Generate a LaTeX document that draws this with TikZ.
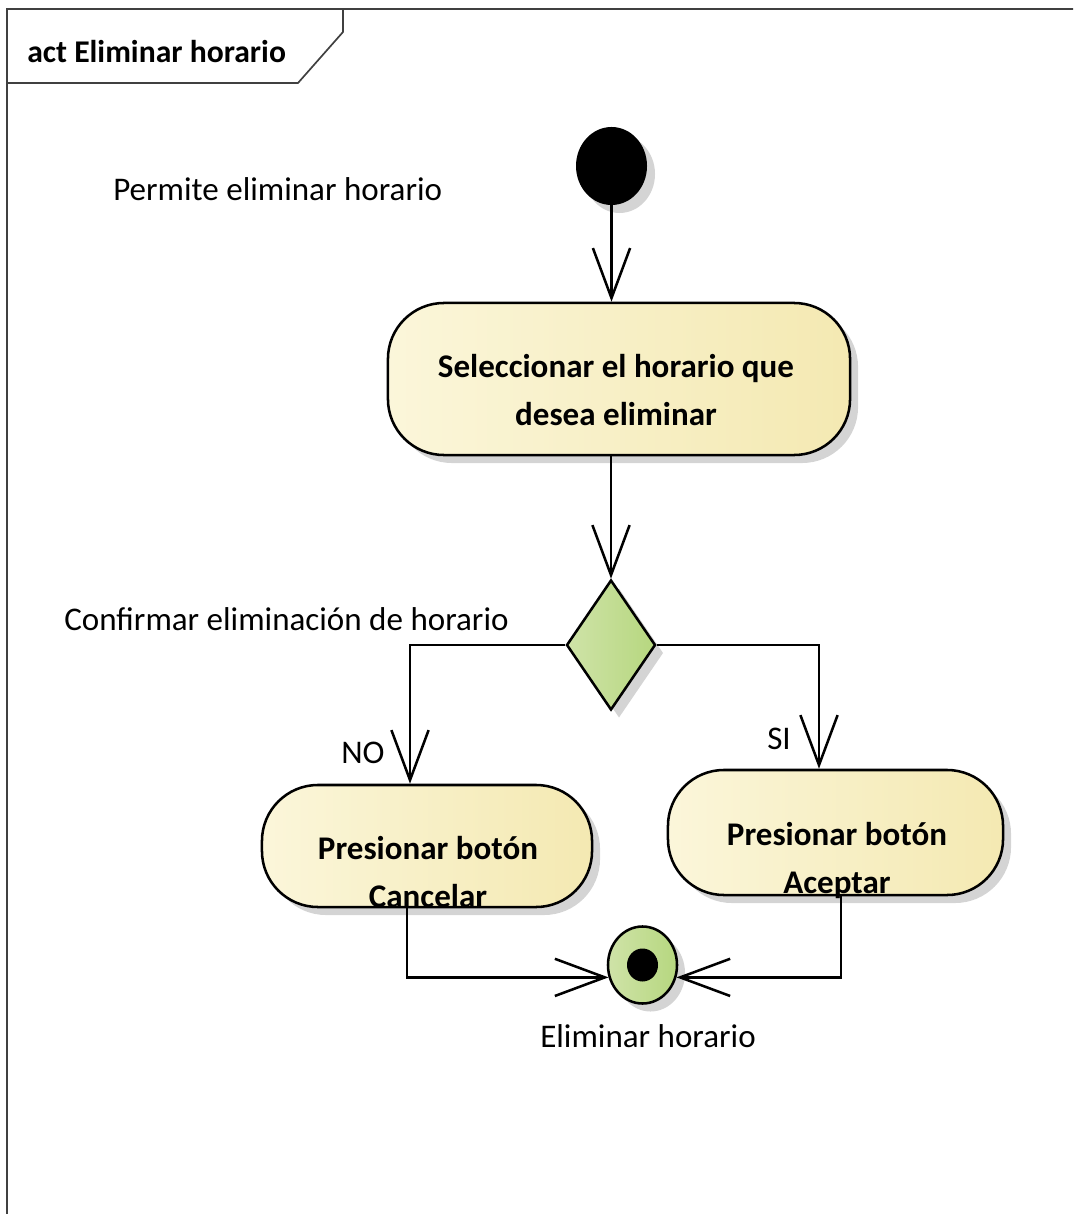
\documentclass[tikz,border=0pt]{standalone}
\usepackage{fontspec}
\setmainfont{Carlito}
\usetikzlibrary{shapes.geometric,arrows.meta,shadows}

\definecolor{actleft}{HTML}{FBF6DA}
\definecolor{actright}{HTML}{F4E9B2}
\definecolor{decleft}{HTML}{CFE3A8}
\definecolor{decright}{HTML}{B6D77F}
\definecolor{framegray}{HTML}{404040}
\definecolor{shadowgray}{HTML}{D4D4D4}

\tikzset{
  flow/.style={line width=1.8pt, -{Straight Barb[length=1.25cm, width=0.93cm]}},
  umlshadow/.style={drop shadow={shadow xshift=0.2cm, shadow yshift=-0.2cm, fill=shadowgray, opacity=1}},
  action/.style={draw, line width=1.8pt, rounded corners=1.4cm, left color=actleft, right color=actright, umlshadow, inner sep=0},
  acttext/.style={font=\bfseries\fontsize{23.5}{34}\selectfont, align=center, inner sep=0},
  lbl/.style={font=\fontsize{23.5}{28}\selectfont, inner sep=0},
}

\begin{document}
\begin{tikzpicture}[x=0.025cm, y=-0.025cm]
  \useasboundingbox (0,0) rectangle (1073,1214);
  \clip (0,0) rectangle (1073,1214);

  % Frame
  \draw[framegray, line width=1.2pt] (7,1300) -- (7,9) -- (1100,9);
  \draw[framegray, line width=1.2pt] (7,83) -- (298,83) -- (343,32) -- (343,9);
  \node[font=\bfseries\fontsize{22.5}{27}\selectfont, inner sep=0, anchor=base west] (title) at (27,63) {act Eliminar horario};

  % Nodes
  \node (init) at (611.5,166) [ellipse, fill=black, minimum width=1.775cm, minimum height=1.95cm, inner sep=0, umlshadow] {};
  \node (seleccionar) at (619,379) [action, minimum width=11.55cm, minimum height=3.8cm] {};
  \node (seleccionartxt) at (616,425) [acttext, anchor=base] {Seleccionar el horario que\\desea eliminar};

  \node (dec) at (611,645) [diamond, draw, line width=1.8pt, left color=decleft, right color=decright, minimum width=2.225cm, minimum height=3.25cm, inner sep=0, umlshadow] {};

  \node (cancelar) at (427,846) [action, minimum width=8.25cm, minimum height=3.05cm] {};
  \node (cancelartxt) at (428,907) [acttext, anchor=base] {Presionar botón\\Cancelar};
  \node (aceptar) at (835.5,832.5) [action, minimum width=8.375cm, minimum height=3.125cm] {};
  \node (aceptartxt) at (837,893) [acttext, anchor=base] {Presionar botón\\Aceptar};

  \node (final) at (642.5,965) [ellipse, draw, line width=1.8pt, left color=decleft, right color=decright, minimum width=1.725cm, minimum height=1.925cm, inner sep=0, umlshadow] {};
  \node (finaldot) at (final.center) [ellipse, fill=black, minimum width=0.775cm, minimum height=0.825cm, inner sep=0] {};

  % Labels
  \node (permite) at (113,201) [lbl, anchor=base west] {Permite eliminar horario};
  \node (confirmar) at (64,630) [lbl, anchor=base west] {Confirmar eliminación de horario};
  \node (no) at (363,763) [lbl, anchor=base] {NO};
  \node (si) at (779,749) [lbl, anchor=base] {SI};
  \node (eliminar) at (648,1047) [lbl, anchor=base] {Eliminar horario};

  % Edges
  \draw[flow] (init.south) -- (init.south |- seleccionar.north);
  \draw[flow] (seleccionar.south -| dec.north) -- (dec.north);
  \draw[flow] (dec.west) -| ([shift={(-17,0)}]cancelar.north);
  \draw[flow] (dec.east) -| ([shift={(-16.5,0)}]aceptar.north);
  \draw[flow] ([shift={(-20,0)}]cancelar.south) |- (final.200);
  \draw[flow] ([shift={(5.5,0)}]aceptar.south) |- (final.340);
\end{tikzpicture}
\end{document}
